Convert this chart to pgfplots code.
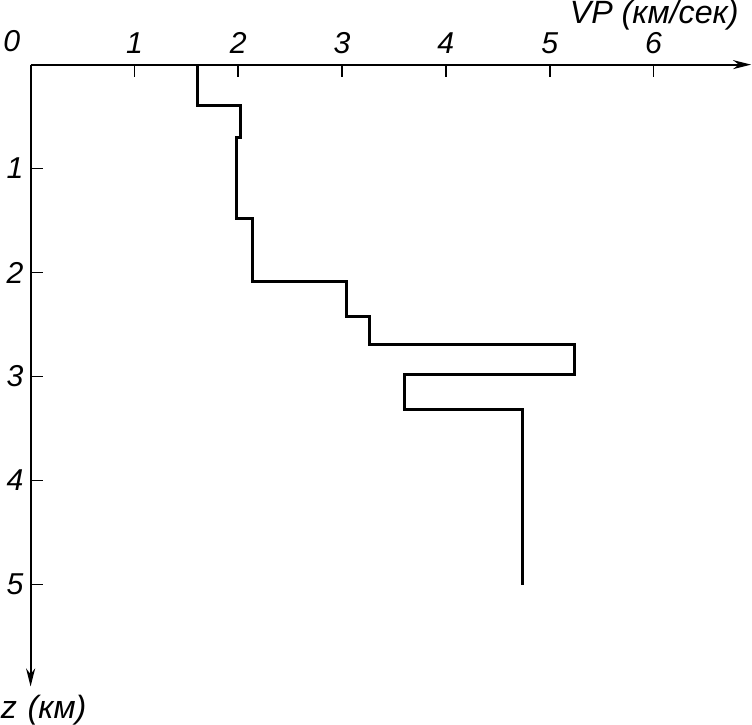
\documentclass[border=0pt]{standalone}
\usepackage{fontspec}
\setmainfont{Liberation Sans}
\usepackage{pgfplots}
\pgfplotsset{compat=1.18}
\usetikzlibrary{arrows.meta}
\begin{document}
\begin{tikzpicture}
\begin{axis}[
 scale only axis, width=358pt, height=309pt,
 xmin=0, xmax=6.94, ymin=-5.98, ymax=0,
 axis x line=top, axis y line=left,
 x axis line style={line width=0.9pt, -{Stealth[length=9pt,width=4.5pt]}},
 y axis line style={line width=0.9pt, {Stealth[length=9pt,width=4.5pt]}-},
 xtick pos=right, ytick pos=left,
 tick align=inside,
 major tick length=6pt,
 xtick style={draw=black, line width=0.8pt},
 ytick style={draw=black, line width=0.8pt},
 xtick={1,...,6}, ytick={-5,-4,-3,-2,-1}, yticklabels={5,4,3,2,1},
 /pgf/number format/assume math mode=true,
 ticklabel style={font=\fontsize{15}{18}\selectfont\itshape},
 xticklabel style={yshift=2pt},
 clip=false,
]
\addplot[black, line width=1.5pt, line join=miter] coordinates {
(1.61,0) (1.61,-0.39) (2.02,-0.39) (2.02,-0.70) (1.98,-0.70) (1.98,-1.48)
(2.14,-1.48) (2.14,-2.09) (3.04,-2.09) (3.04,-2.42) (3.26,-2.42) (3.26,-2.69)
(5.24,-2.69) (5.24,-2.98) (3.60,-2.98) (3.60,-3.32) (4.74,-3.32) (4.74,-5.0)
};
\draw[black, line width=0.8pt] (axis cs:0,-1) -- ([xshift=6pt]axis cs:0,-1);
\draw[black, line width=0.8pt] (axis cs:0,-2) -- ([xshift=6pt]axis cs:0,-2);
\draw[black, line width=0.8pt] (axis cs:0,-3) -- ([xshift=6pt]axis cs:0,-3);
\draw[black, line width=0.8pt] (axis cs:0,-4) -- ([xshift=6pt]axis cs:0,-4);
\draw[black, line width=0.8pt] (axis cs:0,-5) -- ([xshift=6pt]axis cs:0,-5);
\draw[black, line width=0.8pt] (axis cs:1,0) -- ([yshift=-6pt]axis cs:1,0);
\draw[black, line width=0.8pt] (axis cs:2,0) -- ([yshift=-6pt]axis cs:2,0);
\draw[black, line width=0.8pt] (axis cs:3,0) -- ([yshift=-6pt]axis cs:3,0);
\draw[black, line width=0.8pt] (axis cs:4,0) -- ([yshift=-6pt]axis cs:4,0);
\draw[black, line width=0.8pt] (axis cs:5,0) -- ([yshift=-6pt]axis cs:5,0);
\draw[black, line width=0.8pt] (axis cs:6,0) -- ([yshift=-6pt]axis cs:6,0);
\node[anchor=south east, font=\fontsize{15}{18}\selectfont\itshape, inner sep=0pt] at (axis cs:0,0) [xshift=-5pt, yshift=6pt] {0};
\node[anchor=south east, font=\fontsize{16}{19}\selectfont\itshape, inner sep=0pt] at (axis cs:6.94,0) [xshift=-6pt, yshift=17pt] {VP (км/сек)};
\node[anchor=north west, font=\fontsize{16}{19}\selectfont\itshape, inner sep=0pt] at (axis cs:0,-5.98) [xshift=-15pt, yshift=-4pt] {z\,\,(км)};
\end{axis}
\end{tikzpicture}
\end{document}
